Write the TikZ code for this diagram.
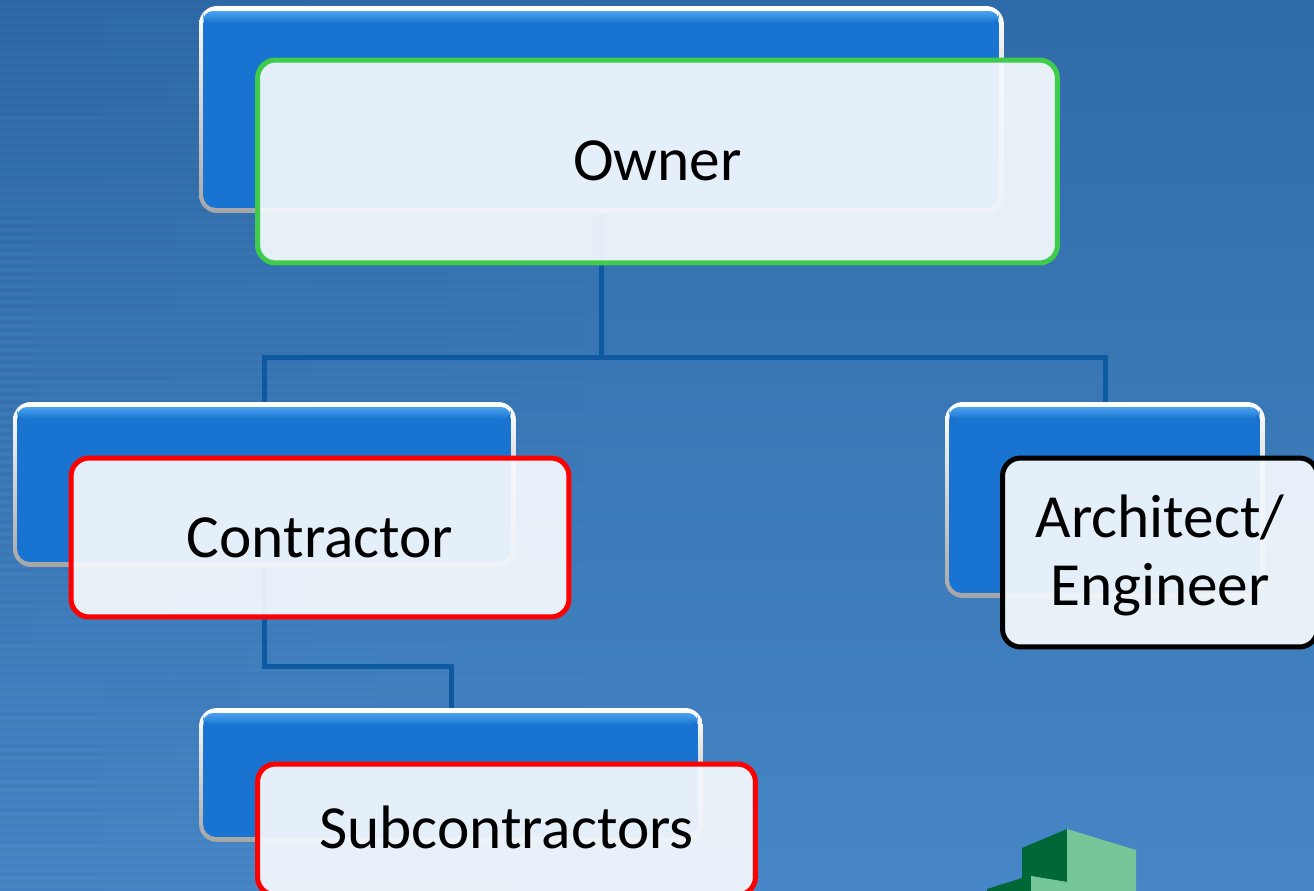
\documentclass[tikz,border=0pt]{standalone}
\usepackage{fontspec}
\setmainfont{Carlito}
\usetikzlibrary{calc}
\usetikzlibrary{fadings}
\definecolor{boxblue}{HTML}{1874D0}
\definecolor{boxlight}{HTML}{4BA3F0}
\definecolor{linkblue}{HTML}{0D5AA0}
\definecolor{ownergreen}{HTML}{3FCB4B}
\definecolor{frontfill}{HTML}{F5F9FD}
\definecolor{logodark}{HTML}{006837}
\definecolor{logolight}{HTML}{75C699}
\begin{document}
\begin{tikzpicture}[
            x=0.02cm, y=-0.02cm,
            backbox/.style={rectangle, rounded corners=0.36cm, inner sep=0pt, top color=white, middle color=gray!25, bottom color=gray!70,
                path picture={
                    \fill[boxblue, rounded corners=0.26cm] ([shift={(4,5)}]path picture bounding box.north west) rectangle ([shift={(-5,-5)}]path picture bounding box.south east);
                    \shade[top color=boxlight, bottom color=boxblue, rounded corners=0.2cm] ([shift={(4,5)}]path picture bounding box.north west) rectangle ([shift={(-5,17)}]path picture bounding box.north east);
                }},
            frontbox/.style={rectangle, rounded corners=0.36cm, draw, line width=0.1cm, fill=frontfill, fill opacity=0.93, text opacity=1, inner sep=0pt, align=center, font=\fontsize{34.9}{38.7}\selectfont},
            link/.style={draw=linkblue, line width=0.1cm}
        ]

        % Background
        \useasboundingbox (0,0) rectangle (1314,891);
        \clip (0,0) rectangle (1314,891);
        \shade[top color={rgb,255:red,47;green,107;blue,168}, bottom color={rgb,255:red,70;green,134;blue,198}] (0,0) rectangle (1314,891);
        \foreach \y in {0,8,...,888} {
            \fill[black, opacity=0.035, path fading=east] (0,\y) rectangle (620,\y+4);
        }

        % Logo
        \fill[logodark] (1022,848) -- (1067,829) -- (1067,882) -- (1031,876) -- (1031,891) -- (987,891) -- (987,889) -- (1022,878) -- cycle;
        \fill[logolight] (1067,829) -- (1136,850) -- (1136,891) -- (1031,891) -- (1031,876) -- (1067,882) -- cycle;

        % Blue boxes
        \node[backbox, minimum width=16.1cm, minimum height=4.14cm] (ownerback) at (601.5,109.5) {};
        \node[backbox, minimum width=10.06cm, minimum height=3.3cm] (contractorback) at (264.5,484.5) {};
        \node[backbox, minimum width=6.4cm, minimum height=3.92cm] (architectback) at (1105,500) {};
        \node[backbox, minimum width=10.08cm, minimum height=2.68cm] (subback) at (451,775) {};

        % Connectors
        \coordinate (ownerbus) at (ownerback.south |- 0,358);
        \coordinate (subbus) at (contractorback.south |- 0,666);
        \draw[link] (ownerback.south) -- (ownerbus);
        \draw[link] (contractorback.north) |- (ownerbus);
        \draw[link] (architectback.north) |- (ownerbus);
        \draw[link] (contractorback.south) -- (subbus) -| (subback.north);

        % Labelled boxes
        \node[frontbox, draw=ownergreen, minimum width=16cm, minimum height=4.06cm] (owner) at (657.5,161.5) {\raisebox{1pt}{Owner}};
        \node[frontbox, draw=red, minimum width=9.96cm, minimum height=3.18cm] (contractor) at (320,537.5) {Contractor};
        \node[frontbox, draw=black, minimum width=6.3cm, minimum height=3.78cm] (architect) at (1160,552.5) {\rule{0pt}{27.5pt}Architect/\\Engineer};
        \node[frontbox, draw=red, minimum width=9.96cm, minimum height=2.62cm] (sub) at (506.5,829.5) {\raisebox{3pt}{Subcontractors}};

\end{tikzpicture}
\end{document}
